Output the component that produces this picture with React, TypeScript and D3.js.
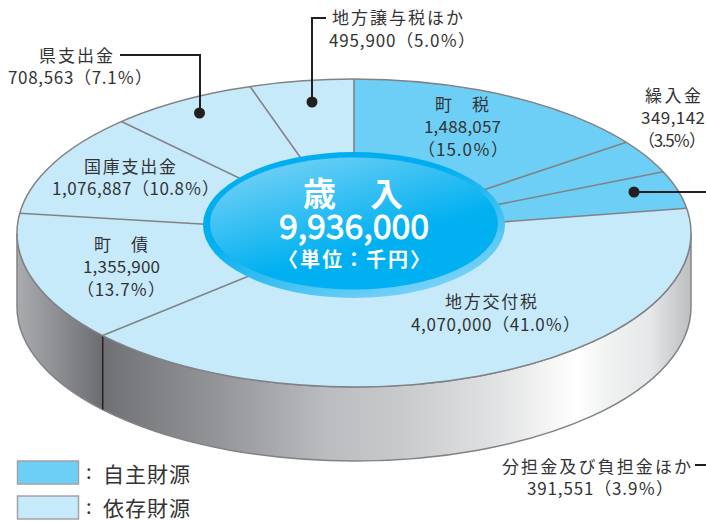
import React from 'react'
import * as d3 from 'd3'

// clockwise from 12 o'clock
const names = ['町税', '繰入金', '分担金及び負担金ほか', '地方交付税', '町債', '国庫支出金', '県支出金', '地方譲与税ほか']
const amounts = [1488057, 349142, 391551, 4070000, 1355900, 1076887, 708563, 495900]
const sources = ['self', 'self', 'self', 'dep', 'dep', 'dep', 'dep', 'dep']

const legendNames = ['自主財源', '依存財源']
const legendKeys = ['self', 'dep']

const totalTitle = '歳　入'
const totalAmount = '9,936,000'
const totalUnit = '〈単位：千円〉'

// text lines: [text, x, baseline, width]. fullwidth parens carry blank half boxes, widths include them
const labelLines: [string, number, number, number][] = [
  ['地方譲与税ほか', 332, 24, 131],
  ['495,900（5.0％）', 329, 47, 146],
  ['町　税', 435, 111, 54],
  ['1,488,057', 424, 133, 77],
  ['（15.0％）', 418, 156, 90],
  ['県支出金', 39, 62, 74],
  ['708,563（7.1％）', 8, 84, 144],
  ['繰入金', 645, 102, 56],
  ['349,142', 641, 124, 64],
  ['（3.5％）', 638, 147, 68],
  ['国庫支出金', 84, 173, 92],
  ['1,076,887（10.8％）', 52, 195, 167],
  ['町　債', 94, 251, 54],
  ['1,355,900', 83, 273, 77],
  ['（13.7％）', 77, 296, 88],
  ['地方交付税', 445, 308, 92],
  ['4,070,000（41.0％）', 411, 331, 169],
  ['分担金及び負担金ほか', 502, 473, 189],
  ['391,551（3.9％）', 527, 495, 146],
]

const sideStops: [number, string][] = [
  [17, '#a9abae'], [60, '#8c8d90'], [100, '#6d6e71'], [125, '#77787b'], [230, '#98999c'],
  [330, '#bcbdc0'], [400, '#c8c9cb'], [500, '#e2e3e4'], [577, '#ffffff'], [605, '#f1f2f2'],
  [650, '#e6e7e8'], [691, '#bcbec0'],
]

const W = 706
const H = 521
const cx = 354
const cy = 233
const rx = 337
const ry = 154
const depth = 74
const edge = '#808285'
const ink = '#231f20'
const font = '"Noto Sans CJK JP", "Noto Sans", sans-serif'
const fills: Record<string, string> = { self: '#6dcff6', dep: '#c7eafb' }

const pie = d3.pie<number>().sort(null).value(d => d)
const arcs = pie(amounts)
const arc = d3.arc<d3.PieArcDatum<number>>().innerRadius(0).outerRadius(rx)
const squash = ry / rx

const sideX = d3.scaleLinear().domain([17, 691]).range([0, 1])

// point on the rim for a pie angle
const rim = (a: number): [number, number] => [cx + rx * Math.sin(a), cy - ry * Math.cos(a)]

const sidePath =
  `M${cx + rx},${cy} A${rx},${ry} 0 0 1 ${cx - rx},${cy} V${cy + depth} ` +
  `A${rx},${ry} 0 0 0 ${cx + rx},${cy + depth} Z`

export default function App() {
  const seam = rim(arcs[3].endAngle)
  return (
    <svg width={W} height={H} viewBox={`0 0 ${W} ${H}`} style={{ position: 'absolute', left: 0, top: 0 }} fontFamily={font}>
      <defs>
        <linearGradient id="side" gradientUnits="userSpaceOnUse" x1={17} x2={691} y1={0} y2={0}>
          {sideStops.map(([x, c]) => <stop key={x} offset={sideX(x)} stopColor={c} />)}
        </linearGradient>
        <linearGradient id="ringFill" x1="0.2" y1="0.05" x2="0.8" y2="0.95">
          <stop offset="0.35" stopColor="#00aeef" />
          <stop offset="1" stopColor="#7dd3f7" />
        </linearGradient>
        <linearGradient id="coreFill" x1="0.2" y1="0.05" x2="0.7" y2="0.85">
          <stop offset="0" stopColor="#6dcff6" />
          <stop offset="0.75" stopColor="#00b0f0" />
        </linearGradient>
      </defs>

      <path d={sidePath} fill="url(#side)" stroke={edge} strokeWidth={1.5} />
      <line x1={seam[0]} x2={seam[0]} y1={seam[1]} y2={seam[1] + depth} stroke={ink} strokeWidth={1.5} />

      <g transform={`translate(${cx},${cy}) scale(1,${squash})`}>
        {arcs.map((d, i) => (
          <path key={names[i]} d={arc(d) as string} fill={fills[sources[i]]} stroke="none" />
        ))}
      </g>
      {arcs.map((d, i) => {
        const [x, y] = rim(d.startAngle)
        return <line key={names[i]} x1={cx} y1={cy} x2={x} y2={y} stroke={edge} strokeWidth={1.6} />
      })}
      <ellipse cx={cx} cy={cy} rx={rx} ry={ry} fill="none" stroke={edge} strokeWidth={1.5} />

      <ellipse cx={354} cy={225} rx={151} ry={73} fill="url(#ringFill)" />
      <ellipse cx={354} cy={223.5} rx={144} ry={66} fill="url(#coreFill)" />
      <g fill="#fff" fontWeight={700} textAnchor="middle">
        <text x={353} y={206} fontSize={33} textLength={100} lengthAdjust="spacing">{totalTitle}</text>
        <text x={354} y={239} fontSize={34} fontWeight={400} stroke="#fff" strokeWidth={0.8} textLength={150}>{totalAmount}</text>
        <text x={354} y={267} fontSize={20} textLength={152}>{totalUnit}</text>
      </g>

      {/* leaders */}
      <g fill="none" stroke={ink} strokeWidth={2}>
        <polyline points="120,55 200,55 200,113" />
        <polyline points="326,18 312,18 312,102" />
        <line x1={634} y1={192} x2={706} y2={192} />
        <line x1={695} y1={465} x2={706} y2={465} />
      </g>
      <g fill={ink}>
        <circle cx={199.5} cy={113} r={5.5} />
        <circle cx={312} cy={102} r={5.5} />
        <circle cx={634} cy={192} r={5.5} />
      </g>

      <g fill="#333" fontSize={17}>
        {labelLines.map(([t, x, y, w]) => (
          <text key={t} x={x} y={y} textLength={w} lengthAdjust="spacing">{t}</text>
        ))}
      </g>

      {legendNames.map((n, i) => (
        <g key={n} transform={`translate(0,${461 + i * 35})`}>
          <rect x={17.5} y={0} width={61} height={23} fill={fills[legendKeys[i]]} stroke="#a0a2a5" strokeWidth={1.5} />
          <text x={86} y={18} fontSize={20} fill="#333">:</text>
          <text x={103} y={i === 0 ? 21 : 20} fontSize={21} fill="#333" textLength={87}>{n}</text>
        </g>
      ))}
    </svg>
  )
}
